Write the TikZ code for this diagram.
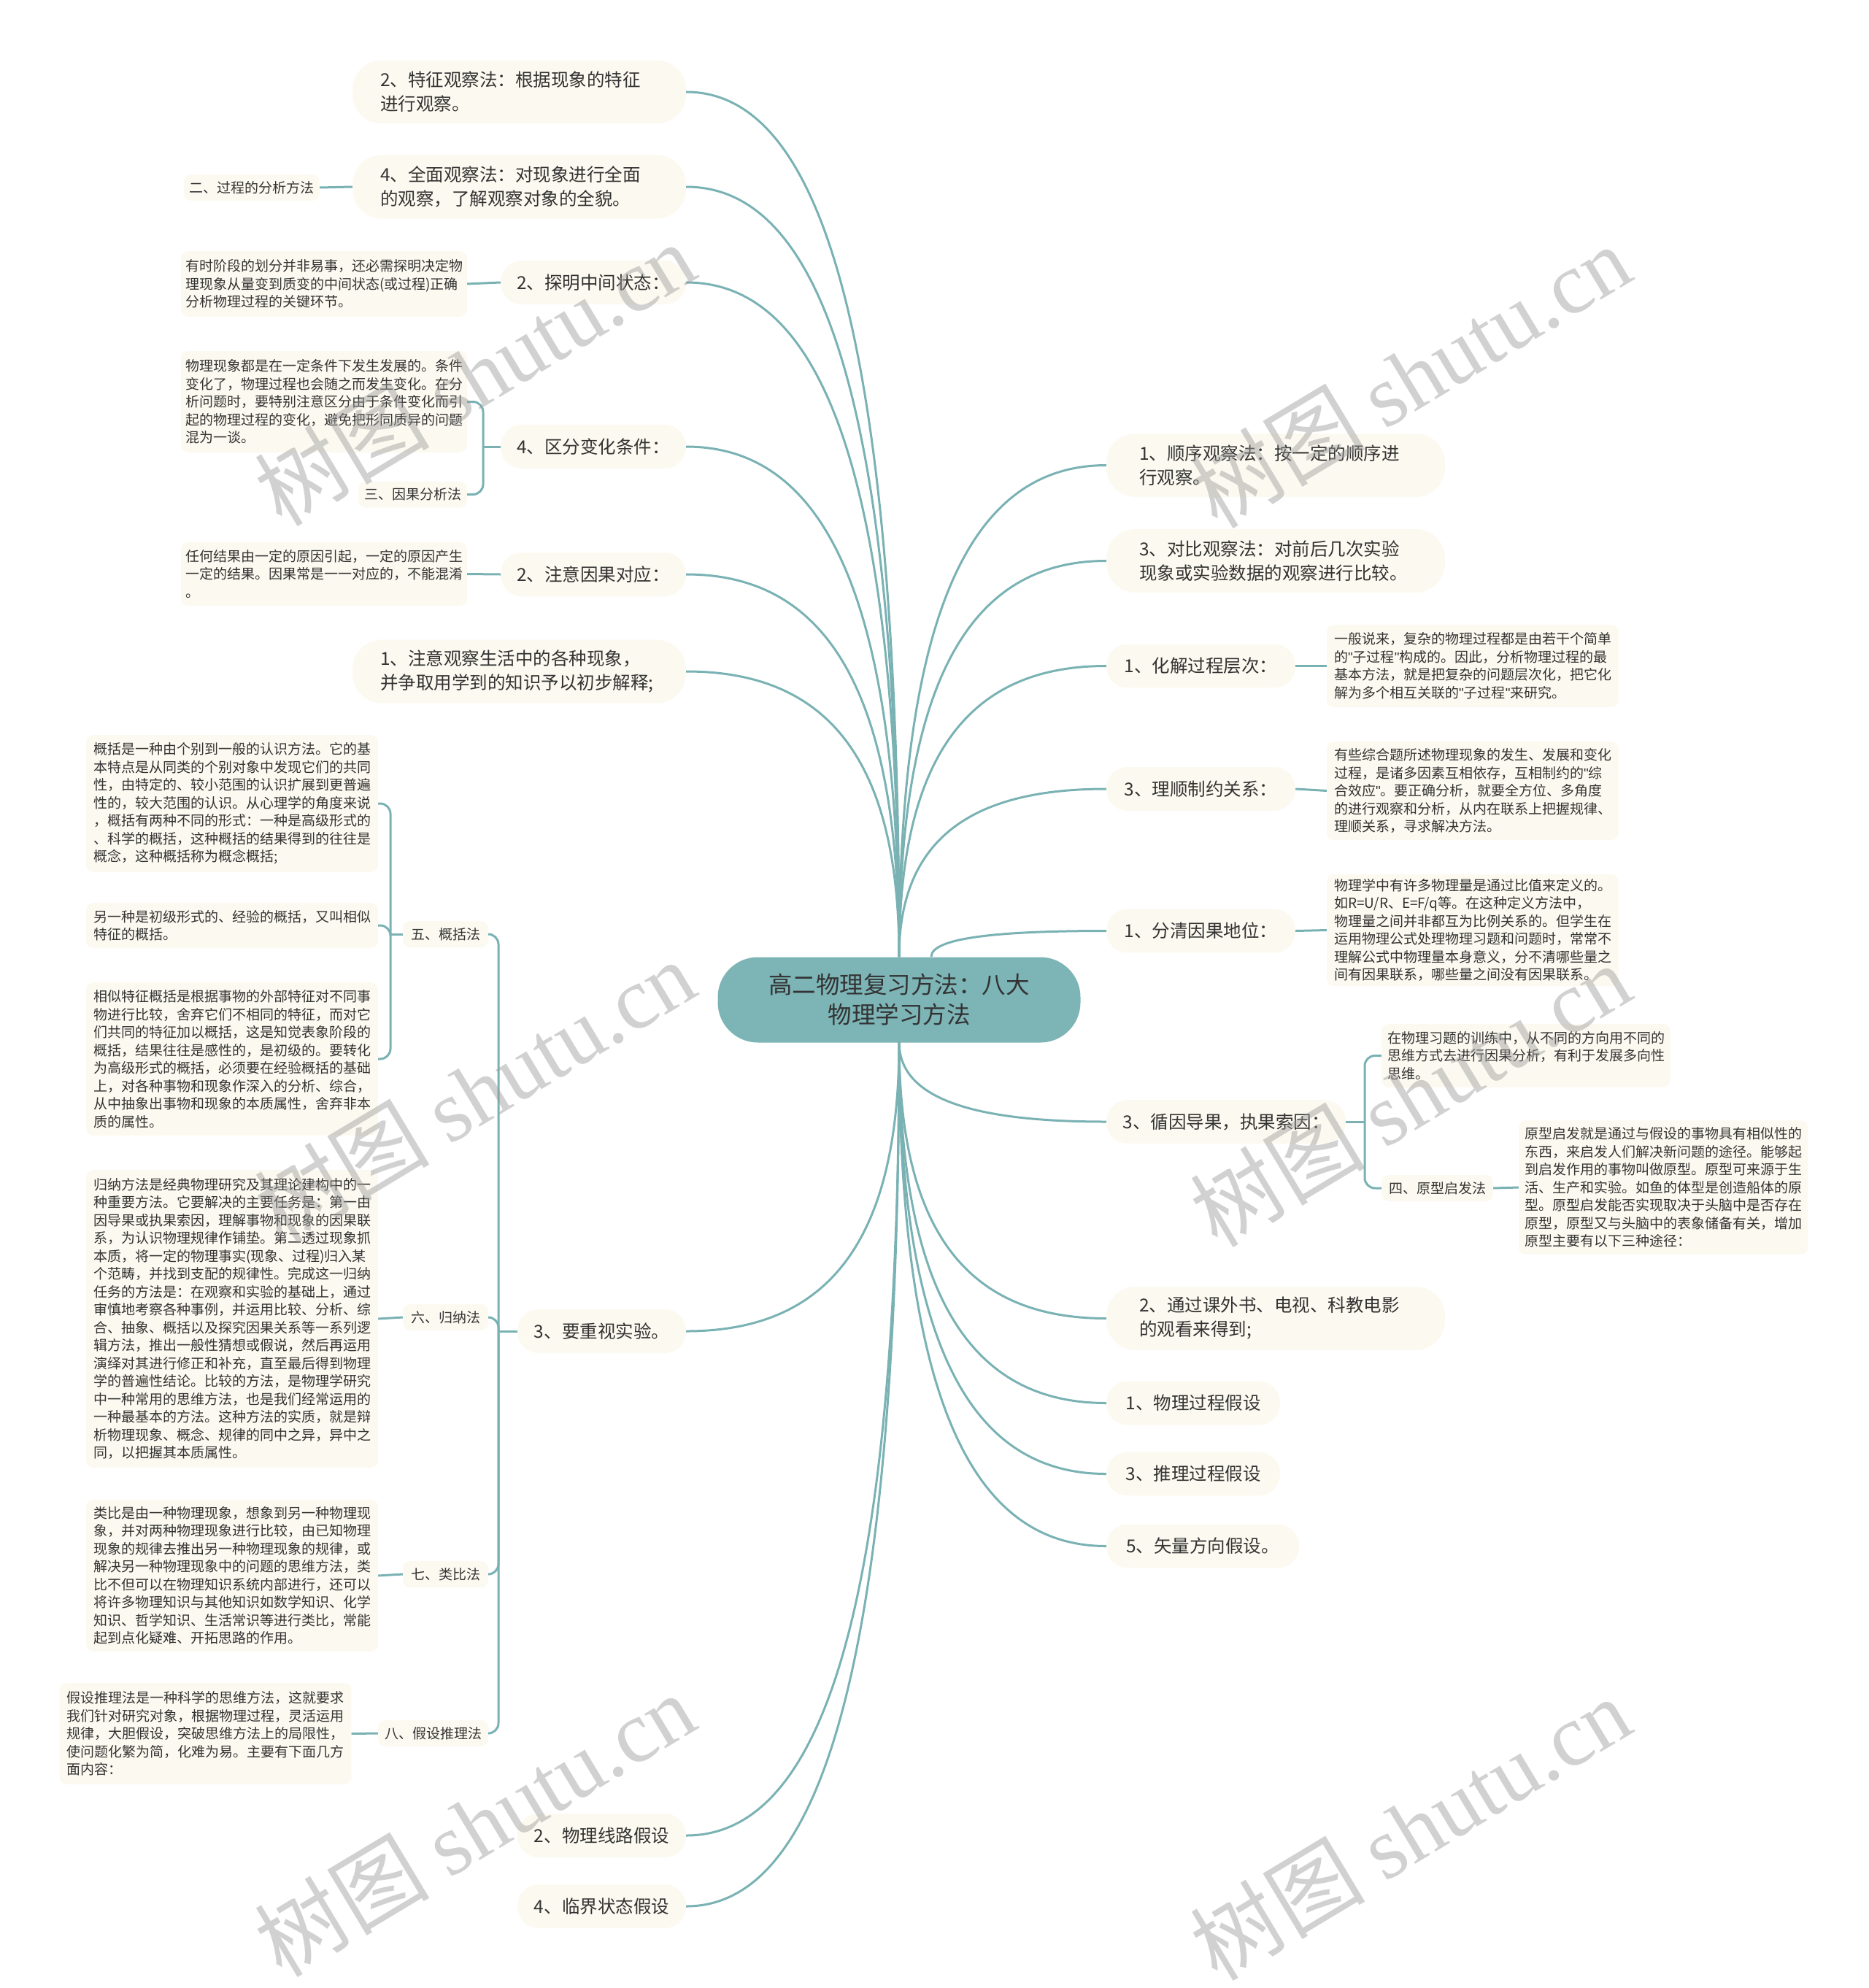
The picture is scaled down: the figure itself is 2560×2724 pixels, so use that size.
\documentclass[tikz,border=0pt]{standalone}
\usepackage{fontspec}
\setmainfont{Noto Sans CJK SC}
\newfontfamily\wmlatin{Liberation Serif}
\newfontfamily\qlat{Liberation Sans}
\newcommand\dq{{\qlat"}}
\usetikzlibrary{calc}
\definecolor{linec}{RGB}{122,178,180}
\definecolor{centc}{RGB}{125,180,182}
\definecolor{cream}{RGB}{252,250,240}
\definecolor{txt}{RGB}{51,51,51}
\newcommand\mmlink[2]{\draw[linkline] let \p1=(#1), \p2=(#2) in (\p1) .. controls (\x1,{\y2+0.25*(\y1-\y2)}) and ({\x2+0.6*(\x1-\x2)},\y2) .. (\p2);}
\begin{document}
\begin{tikzpicture}[x=1pt,y=-1pt,
  linkline/.style={draw=linec, line width=3pt},
  bracel/.style={draw=linec, line width=3pt, rounded corners=14pt},
  mainone/.style={fill=cream, text=txt, rounded corners=29pt, inner sep=0pt, minimum height=60pt, align=center, font=\fontsize{24.5}{33}\selectfont},
  maintwo/.style={fill=cream, text=txt, rounded corners=40pt, inner ysep=0pt, inner xsep=38pt, minimum height=87pt, align=left, text width=381pt, font=\fontsize{24.5}{33}\selectfont},
  tbox/.style={fill=cream, text=txt, rounded corners=10pt, inner ysep=0pt, inner xsep=10pt, text width=380pt, align=left, font=\fontsize{19}{24.5}\selectfont},
  lab/.style={fill=cream, text=txt, rounded corners=10pt, inner sep=0pt, minimum height=36pt, align=center, font=\fontsize{19}{24}\selectfont},
  wm/.style={text=black!40, opacity=0.45, rotate=31, font=\fontsize{120}{120}\selectfont, inner sep=0pt}
]
\fill[white] (0,0) rectangle (2560,2724);
\useasboundingbox (0,0) rectangle (2560,2724);

% center
\node[fill=centc, text=txt, rounded corners=55pt, minimum width=497pt, minimum height=117pt, inner sep=0pt, align=center, font=\fontsize{32.5}{41}\selectfont] (C) at (1232,1370) {高二物理复习方法：八大\\物理学习方法};

% left main
\node[maintwo] (A1) at (711.5,126) {2、特征观察法：根据现象的特征\\进行观察。};
\node[maintwo] (A2) at (711.5,256) {4、全面观察法：对现象进行全面\\的观察，了解观察对象的全貌。};
\node[mainone, minimum width=254pt] (A3) at (813,387) {2、探明中间状态：};
\node[mainone, minimum width=254pt] (A4) at (813,612) {4、区分变化条件：};
\node[mainone, minimum width=254pt] (A5) at (813,787) {2、注意因果对应：};
\node[maintwo] (A6) at (711.5,920) {1、注意观察生活中的各种现象，\\并争取用学到的知识予以初步解释;};
\node[mainone, minimum width=231pt] (A7) at (824.5,1824) {3、要重视实验。};
\node[mainone, minimum width=231pt] (A8) at (824.5,2515) {2、物理线路假设};
\node[mainone, minimum width=231pt] (A9) at (824.5,2612) {4、临界状态假设};

% left children
\node[lab, minimum width=186pt] (L2) at (345,257) {二、过程的分析方法};
\node[tbox, inner xsep=6pt, minimum height=90pt] (T3) at (444,389) {有时阶段的划分并非易事，还必需探明决定物\\理现象从量变到质变的中间状态(或过程)正确\\分析物理过程的关键环节。};
\node[tbox, inner xsep=6pt, minimum height=139pt] (T4) at (444,550.5) {物理现象都是在一定条件下发生发展的。条件\\变化了，物理过程也会随之而发生变化。在分\\析问题时，要特别注意区分由于条件变化而引\\起的物理过程的变化，避免把形同质异的问题\\混为一谈。};
\node[lab, minimum width=149pt] (L3) at (565.5,677.5) {三、因果分析法};
\node[tbox, inner xsep=6pt, minimum height=87pt] (T5) at (444,786.5) {任何结果由一定的原因引起，一定的原因产生\\一定的结果。因果常是一一对应的，不能混淆\\。};

\node[lab, minimum width=117pt] (L5) at (610.5,1280) {五、概括法};
\node[lab, minimum width=117pt] (L6) at (610.5,1805) {六、归纳法};
\node[lab, minimum width=117pt] (L7) at (610.5,2157) {七、类比法};
\node[lab, minimum width=151pt] (L8) at (593.5,2375) {八、假设推理法};

\node[tbox, minimum height=188pt] (T5a) at (318,1101) {概括是一种由个别到一般的认识方法。它的基\\本特点是从同类的个别对象中发现它们的共同\\性，由特定的、较小范围的认识扩展到更普遍\\性的，较大范围的认识。从心理学的角度来说\\，概括有两种不同的形式：一种是高级形式的\\、科学的概括，这种概括的结果得到的往往是\\概念，这种概括称为概念概括;};
\node[tbox, minimum height=62pt] (T5b) at (318,1268) {另一种是初级形式的、经验的概括，又叫相似\\特征的概括。};
\node[tbox, minimum height=210pt] (T5c) at (318,1451) {相似特征概括是根据事物的外部特征对不同事\\物进行比较，舍弃它们不相同的特征，而对它\\们共同的特征加以概括，这是知觉表象阶段的\\概括，结果往往是感性的，是初级的。要转化\\为高级形式的概括，必须要在经验概括的基础\\上，对各种事物和现象作深入的分析、综合，\\从中抽象出事物和现象的本质属性，舍弃非本\\质的属性。};
\node[tbox, minimum height=408pt] (T6) at (318,1807) {归纳方法是经典物理研究及其理论建构中的一\\种重要方法。它要解决的主要任务是：第一由\\因导果或执果索因，理解事物和现象的因果联\\系，为认识物理规律作铺垫。第二透过现象抓\\本质，将一定的物理事实(现象、过程)归入某\\个范畴，并找到支配的规律性。完成这一归纳\\任务的方法是：在观察和实验的基础上，通过\\审慎地考察各种事例，并运用比较、分析、综\\合、抽象、概括以及探究因果关系等一系列逻\\辑方法，推出一般性猜想或假说，然后再运用\\演绎对其进行修正和补充，直至最后得到物理\\学的普遍性结论。比较的方法，是物理学研究\\中一种常用的思维方法，也是我们经常运用的\\一种最基本的方法。这种方法的实质，就是辩\\析物理现象、概念、规律的同中之异，异中之\\同，以把握其本质属性。};
\node[tbox, minimum height=208pt] (T7) at (318,2159) {类比是由一种物理现象，想象到另一种物理现\\象，并对两种物理现象进行比较，由已知物理\\现象的规律去推出另一种物理现象的规律，或\\解决另一种物理现象中的问题的思维方法，类\\比不但可以在物理知识系统内部进行，还可以\\将许多物理知识与其他知识如数学知识、化学\\知识、哲学知识、生活常识等进行类比，常能\\起到点化疑难、开拓思路的作用。};
\node[tbox, minimum height=139pt] (T8) at (281.5,2375.5) {假设推理法是一种科学的思维方法，这就要求\\我们针对研究对象，根据物理过程，灵活运用\\规律，大胆假设，突破思维方法上的局限性，\\使问题化繁为简，化难为易。主要有下面几方\\面内容：};

% right main
\node[maintwo, text width=374pt, inner xsep=45pt] (B1) at (1748,637.5) {1、顺序观察法：按一定的顺序进\\行观察。};
\node[maintwo, text width=374pt, inner xsep=45pt] (B2) at (1748,768.5) {3、对比观察法：对前后几次实验\\现象或实验数据的观察进行比较。};
\node[mainone, minimum width=259pt] (B3) at (1645.5,912.5) {1、化解过程层次：};
\node[mainone, minimum width=259pt] (B4) at (1645.5,1081) {3、理顺制约关系：};
\node[mainone, minimum width=259pt] (B5) at (1645.5,1275.5) {1、分清因果地位：};
\node[mainone, minimum width=328pt] (B6) at (1680,1537) {3、循因导果，执果索因：};
\node[maintwo, text width=374pt, inner xsep=45pt] (B7) at (1748,1806.5) {2、通过课外书、电视、科教电影\\的观看来得到;};
\node[mainone, minimum width=238pt] (B8) at (1635,1922.5) {1、物理过程假设};
\node[mainone, minimum width=238pt] (B9) at (1635,2019.5) {3、推理过程假设};
\node[mainone, minimum width=264pt] (B10) at (1648,2118.5) {5、矢量方向假设。};

% right children
\node[tbox, minimum height=113pt] (TB3) at (2018,912.5) {一般说来，复杂的物理过程都是由若干个简单\\的\dq 子过程\dq 构成的。因此，分析物理过程的最\\基本方法，就是把复杂的问题层次化，把它化\\解为多个相互关联的\dq 子过程\dq 来研究。};
\node[tbox, minimum height=135pt] (TB4) at (2018,1083.5) {有些综合题所述物理现象的发生、发展和变化\\过程，是诸多因素互相依存，互相制约的\dq 综\\合效应\dq 。要正确分析，就要全方位、多角度\\的进行观察和分析，从内在联系上把握规律、\\理顺关系，寻求解决方法。};
\node[tbox, minimum height=153pt] (TB5) at (2018,1274.5) {物理学中有许多物理量是通过比值来定义的。\\如R=U/R、E=F/q等。在这种定义方法中，\\物理量之间并非都互为比例关系的。但学生在\\运用物理公式处理物理习题和问题时，常常不\\理解公式中物理量本身意义，分不清哪些量之\\间有因果联系，哪些量之间没有因果联系。};
\node[tbox, inner xsep=8pt, minimum height=87pt] (TB6a) at (2091,1446.5) {在物理习题的训练中，从不同的方向用不同的\\思维方式去进行因果分析，有利于发展多向性\\思维。};
\node[lab, minimum width=153pt] (L4) at (1969.5,1628) {四、原型启发法};
\node[tbox, inner xsep=8pt, minimum height=184pt] (TB6b) at (2279,1627) {原型启发就是通过与假设的事物具有相似性的\\东西，来启发人们解决新问题的途径。能够起\\到启发作用的事物叫做原型。原型可来源于生\\活、生产和实验。如鱼的体型是创造船体的原\\型。原型启发能否实现取决于头脑中是否存在\\原型，原型又与头脑中的表象储备有关，增加\\原型主要有以下三种途径：};

% junction points
\coordinate (ct) at (1232,1311);
\coordinate (ctr) at (1276,1311);
\coordinate (cb) at (1232,1428);
\coordinate (j4) at (662,612);
\coordinate (j7) at (683,1824);
\coordinate (j5) at (535,1280);
\coordinate (j6) at (1870,1537);

% center links
\mmlink{ct}{A1.east}
\mmlink{ct}{A2.east}
\mmlink{ct}{A3.east}
\mmlink{ct}{A4.east}
\mmlink{ct}{A5.east}
\mmlink{ct}{A6.east}
\mmlink{ct}{B1.west}
\mmlink{ct}{B2.west}
\mmlink{ct}{B3.west}
\mmlink{ct}{B4.west}
\mmlink{ctr}{B5.west}
\mmlink{cb}{A7.east}
\mmlink{cb}{A8.east}
\mmlink{cb}{A9.east}
\mmlink{cb}{B6.west}
\mmlink{cb}{B7.west}
\mmlink{cb}{B8.west}
\mmlink{cb}{B9.west}
\mmlink{cb}{B10.west}

% child links
\draw[linkline] (A2.west) -- (L2.east);
\draw[linkline] (A3.west) -- (T3.east);
\draw[linkline] (A4.west) -- (j4);
\draw[bracel] (j4) |- (T4.east);
\draw[bracel] (j4) |- (L3.east);
\draw[linkline] (A5.west) -- (T5.east);
\draw[linkline] (A7.west) -- (j7);
\draw[bracel] (j7) |- (L5.east);
\draw[bracel] (j7) |- (L6.east);
\draw[bracel] (j7) |- (L7.east);
\draw[bracel] (j7) |- (L8.east);
\draw[linkline] (L5.west) -- (j5);
\draw[bracel] (j5) |- (T5a.east);
\draw[bracel] (j5) |- (T5b.east);
\draw[bracel] (j5) |- (T5c.east);
\draw[linkline] (L6.west) -- (T6.east);
\draw[linkline] (L7.west) -- (T7.east);
\draw[linkline] (L8.west) -- (T8.east);
\draw[linkline] (B3.east) -- (TB3.west);
\draw[linkline] (B4.east) -- (TB4.west);
\draw[linkline] (B5.east) -- (TB5.west);
\draw[linkline] (B6.east) -- (j6);
\draw[bracel] (j6) |- (TB6a.west);
\draw[bracel] (j6) |- (L4.west);
\draw[linkline] (L4.east) -- (TB6b.west);

% watermarks
\node[wm] (W1) at (650,512) {树图 {\wmlatin shutu.cn}};
\node[wm] (W2) at (1932,515) {树图 {\wmlatin shutu.cn}};
\node[wm] (W3) at (650,1495) {树图 {\wmlatin shutu.cn}};
\node[wm] (W4) at (1932,1500) {树图 {\wmlatin shutu.cn}};
\node[wm] (W5) at (650,2500) {树图 {\wmlatin shutu.cn}};
\node[wm] (W6) at (1932,2505) {树图 {\wmlatin shutu.cn}};
\end{tikzpicture}
\end{document}
